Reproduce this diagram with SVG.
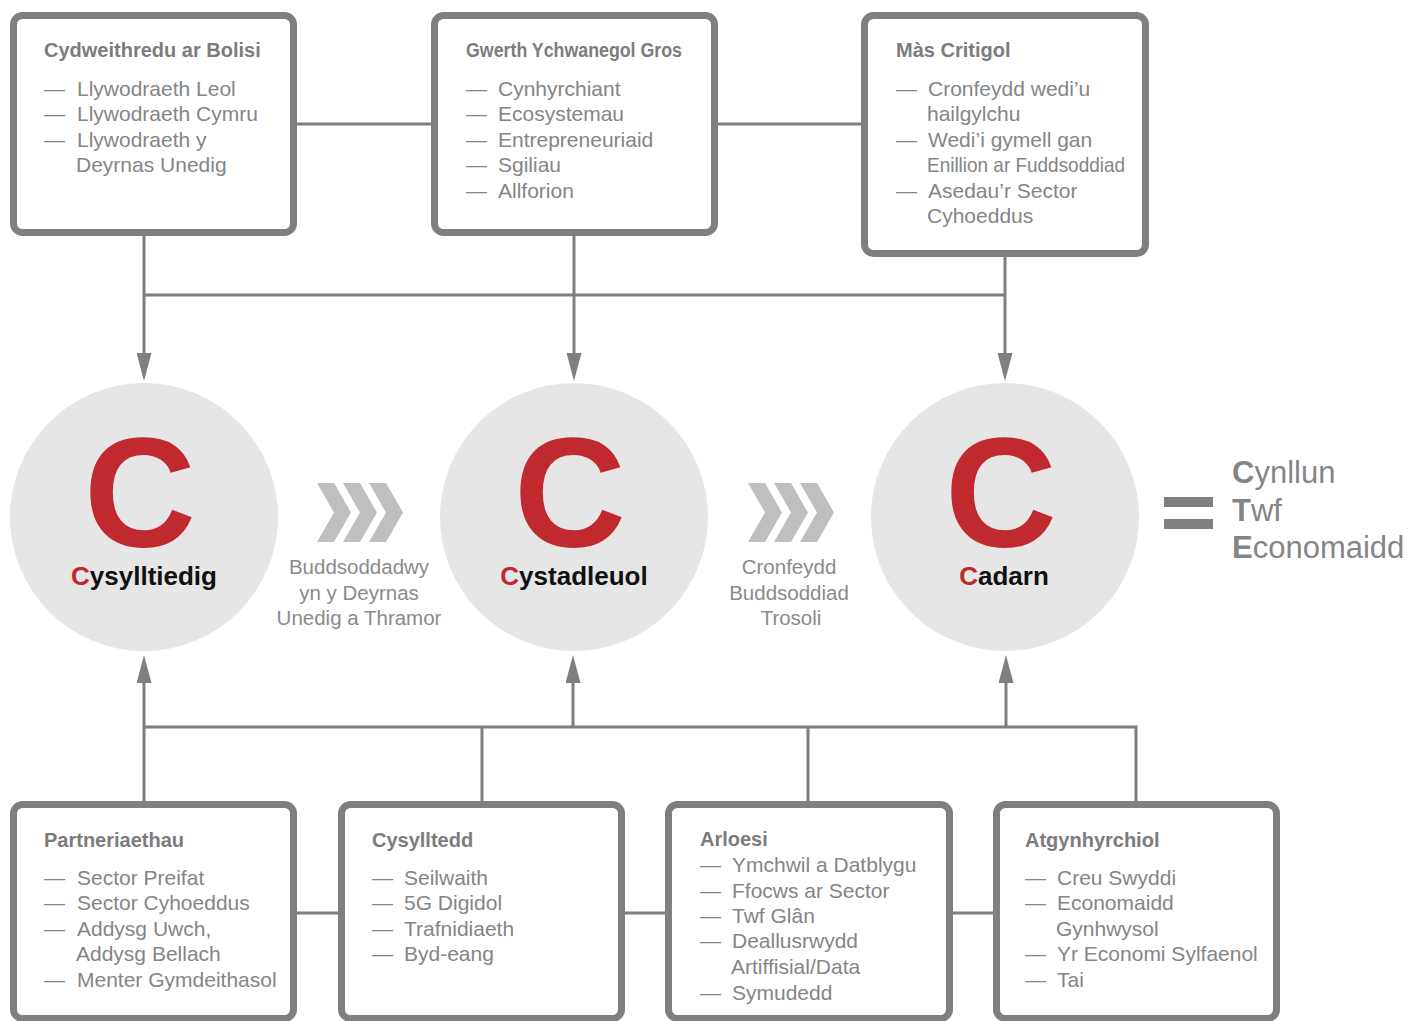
<svg xmlns="http://www.w3.org/2000/svg" width="1411" height="1021" viewBox="0 0 1411 1021">
<defs>
<style>
.box{fill:#fff;stroke:#7f7f80;stroke-width:7}
.ln{fill:none;stroke:#7f7f80;stroke-width:3}
.ttl{font-family:"Liberation Sans",Arial,sans-serif;font-weight:bold;font-size:20px;fill:#7c7c7d}
.itm{font-family:"Liberation Sans",Arial,sans-serif;font-size:21px;fill:#858586}
.circ{fill:#e6e6e6}
.bigc{font-family:"Liberation Sans",Arial,sans-serif;font-weight:bold;font-size:155px;fill:#c0292e}
.lbl{font-family:"Liberation Sans",Arial,sans-serif;font-weight:bold;font-size:26px;fill:#111}
.red{fill:#c0292e}
.chev{fill:#bfbfbf}
.cap{font-family:"Liberation Sans",Arial,sans-serif;font-size:20.5px;fill:#8a8a8b}
.res{font-family:"Liberation Sans",Arial,sans-serif;font-size:31px;fill:#858586}
</style>
<marker id="arr" markerUnits="userSpaceOnUse" markerWidth="28" markerHeight="15" refX="19" refY="7.5" orient="auto">
<path d="M0,0 L28,7.5 L0,15 Z" fill="#7f7f80"/>
</marker>
</defs>

<g id="connectors">
<path class="ln" d="M297,124 H431 M718,124 H861"/>
<path class="ln" d="M144,295 H1005"/>
<path class="ln" d="M144,236 V372" marker-end="url(#arr)"/>
<path class="ln" d="M574,236 V372" marker-end="url(#arr)"/>
<path class="ln" d="M1005,257 V372" marker-end="url(#arr)"/>
<path class="ln" d="M144,727 H1136 V801 M482,727 V801 M808,727 V801"/>
<path class="ln" d="M144,801 V664" marker-end="url(#arr)"/>
<path class="ln" d="M573,727 V664" marker-end="url(#arr)"/>
<path class="ln" d="M1006,727 V664" marker-end="url(#arr)"/>
<path class="ln" d="M297,913 H338 M625,913 H665 M953,913 H993"/>
</g>

<g id="box-polisi">
<rect class="box" x="13.5" y="15.5" width="280" height="217" rx="9"/>
<text class="ttl" x="44" y="57">Cydweithredu ar Bolisi</text>
<text class="itm" x="44" y="96">—</text><text class="itm" x="77" y="96">Llywodraeth Leol</text>
<text class="itm" x="44" y="121">—</text><text class="itm" x="77" y="121">Llywodraeth Cymru</text>
<text class="itm" x="44" y="147">—</text><text class="itm" x="77" y="147">Llywodraeth y</text>
<text class="itm" x="76" y="172">Deyrnas Unedig</text>
</g>

<g id="box-gva">
<rect class="box" x="434.5" y="15.5" width="280" height="217" rx="9"/>
<text class="ttl" x="466" y="57" textLength="216" lengthAdjust="spacingAndGlyphs">Gwerth Ychwanegol Gros</text>
<text class="itm" x="466" y="96">—</text><text class="itm" x="498" y="96">Cynhyrchiant</text>
<text class="itm" x="466" y="121">—</text><text class="itm" x="498" y="121">Ecosystemau</text>
<text class="itm" x="466" y="147">—</text><text class="itm" x="498" y="147">Entrepreneuriaid</text>
<text class="itm" x="466" y="172">—</text><text class="itm" x="498" y="172">Sgiliau</text>
<text class="itm" x="466" y="198">—</text><text class="itm" x="498" y="198">Allforion</text>
</g>

<g id="box-mas">
<rect class="box" x="864.5" y="15.5" width="281" height="238" rx="9"/>
<text class="ttl" x="896" y="57">Màs Critigol</text>
<text class="itm" x="896" y="96">—</text><text class="itm" x="928" y="96">Cronfeydd wedi’u</text>
<text class="itm" x="927" y="121">hailgylchu</text>
<text class="itm" x="896" y="147">—</text><text class="itm" x="928" y="147">Wedi’i gymell gan</text>
<text class="itm" x="927" y="172" textLength="198" lengthAdjust="spacingAndGlyphs">Enillion ar Fuddsoddiad</text>
<text class="itm" x="896" y="198">—</text><text class="itm" x="928" y="198">Asedau’r Sector</text>
<text class="itm" x="927" y="223">Cyhoeddus</text>
</g>

<g id="circle-cysylltiedig">
<circle class="circ" cx="144" cy="517" r="134"/>
<text class="bigc" x="140" y="546" text-anchor="middle">C</text>
<text class="lbl" x="144" y="585" text-anchor="middle"><tspan class="red">C</tspan>ysylltiedig</text>
</g>

<g id="flow-1">
<path class="chev" d="M317,483 H334 L351,512.5 L334,542 H317 L334,512.5 Z M343,483 H360 L377,512.5 L360,542 H343 L360,512.5 Z M369,483 H386 L403,512.5 L386,542 H369 L386,512.5 Z"/>
<text class="cap" text-anchor="middle"><tspan x="359" y="574">Buddsoddadwy</tspan><tspan x="359" y="600">yn y Deyrnas</tspan><tspan x="359" y="625">Unedig a Thramor</tspan></text>
</g>

<g id="circle-cystadleuol">
<circle class="circ" cx="574" cy="517" r="134"/>
<text class="bigc" x="570" y="546" text-anchor="middle">C</text>
<text class="lbl" x="574" y="585" text-anchor="middle"><tspan class="red">C</tspan>ystadleuol</text>
</g>

<g id="flow-2">
<path class="chev" d="M748,483 H765 L782,512.5 L765,542 H748 L765,512.5 Z M774,483 H791 L808,512.5 L791,542 H774 L791,512.5 Z M800,483 H817 L834,512.5 L817,542 H800 L817,512.5 Z"/>
<text class="cap" text-anchor="middle"><tspan x="789" y="574">Cronfeydd</tspan><tspan x="789" y="600">Buddsoddiad</tspan><tspan x="791" y="625">Trosoli</tspan></text>
</g>

<g id="circle-cadarn">
<circle class="circ" cx="1005" cy="517" r="134"/>
<text class="bigc" x="1001" y="546" text-anchor="middle">C</text>
<text class="lbl" x="1004" y="585" text-anchor="middle"><tspan class="red">C</tspan>adarn</text>
</g>

<g id="result">
<rect x="1164" y="497" width="49" height="10" fill="#7f7f80"/>
<rect x="1164" y="519" width="49" height="10" fill="#7f7f80"/>
<text class="res" x="1232" y="483"><tspan font-weight="bold">C</tspan>ynllun</text>
<text class="res" x="1232" y="521"><tspan font-weight="bold">T</tspan>wf</text>
<text class="res" x="1232" y="558"><tspan font-weight="bold">E</tspan>conomaidd</text>
</g>

<g id="box-partneriaethau">
<rect class="box" x="13.5" y="804.5" width="280" height="214" rx="9"/>
<text class="ttl" x="44" y="847">Partneriaethau</text>
<text class="itm" x="44" y="885">—</text><text class="itm" x="77" y="885">Sector Preifat</text>
<text class="itm" x="44" y="910">—</text><text class="itm" x="77" y="910">Sector Cyhoeddus</text>
<text class="itm" x="44" y="936">—</text><text class="itm" x="77" y="936">Addysg Uwch,</text>
<text class="itm" x="76" y="961">Addysg Bellach</text>
<text class="itm" x="44" y="987">—</text><text class="itm" x="77" y="987">Menter Gymdeithasol</text>
</g>

<g id="box-cysylltedd">
<rect class="box" x="341.5" y="804.5" width="280" height="214" rx="9"/>
<text class="ttl" x="372" y="847">Cysylltedd</text>
<text class="itm" x="372" y="885">—</text><text class="itm" x="404" y="885">Seilwaith</text>
<text class="itm" x="372" y="910">—</text><text class="itm" x="404" y="910">5G Digidol</text>
<text class="itm" x="372" y="936">—</text><text class="itm" x="404" y="936">Trafnidiaeth</text>
<text class="itm" x="372" y="961">—</text><text class="itm" x="404" y="961">Byd-eang</text>
</g>

<g id="box-arloesi">
<rect class="box" x="668.5" y="804.5" width="281" height="214" rx="9"/>
<text class="ttl" x="700" y="846">Arloesi</text>
<text class="itm" x="700" y="872">—</text><text class="itm" x="732" y="872">Ymchwil a Datblygu</text>
<text class="itm" x="700" y="898">—</text><text class="itm" x="732" y="898">Ffocws ar Sector</text>
<text class="itm" x="700" y="923">—</text><text class="itm" x="732" y="923">Twf Glân</text>
<text class="itm" x="700" y="948">—</text><text class="itm" x="732" y="948">Deallusrwydd</text>
<text class="itm" x="731" y="974">Artiffisial/Data</text>
<text class="itm" x="700" y="1000">—</text><text class="itm" x="732" y="1000">Symudedd</text>
</g>

<g id="box-atgynhyrchiol">
<rect class="box" x="996.5" y="804.5" width="280" height="214" rx="9"/>
<text class="ttl" x="1025" y="847">Atgynhyrchiol</text>
<text class="itm" x="1025" y="885">—</text><text class="itm" x="1057" y="885">Creu Swyddi</text>
<text class="itm" x="1025" y="910">—</text><text class="itm" x="1057" y="910">Economaidd</text>
<text class="itm" x="1056" y="936">Gynhwysol</text>
<text class="itm" x="1025" y="961">—</text><text class="itm" x="1057" y="961">Yr Economi Sylfaenol</text>
<text class="itm" x="1025" y="987">—</text><text class="itm" x="1057" y="987">Tai</text>
</g>
</svg>
